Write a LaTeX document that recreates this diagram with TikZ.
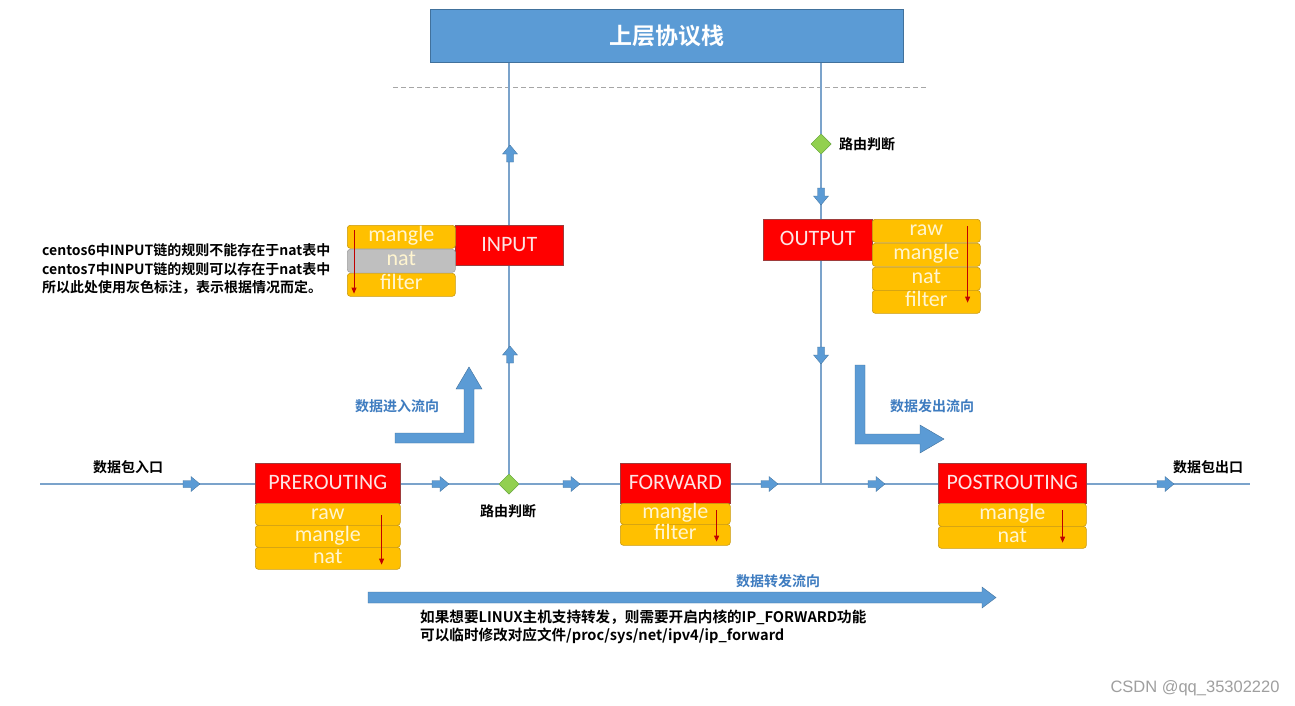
\documentclass[tikz,border=0pt]{standalone}
\usepackage{fontspec}
\usetikzlibrary{shapes.geometric,arrows.meta}
\newfontfamily\cjkb{Noto Sans CJK SC Bold}
\newfontfamily\carl{Carlito}
\newfontfamily\wmfont{Liberation Sans}
\definecolor{lineblue}{HTML}{7BA3CB}
\definecolor{boxblue}{HTML}{5B9BD5}
\definecolor{boxblueb}{HTML}{41719C}
\definecolor{arrblue}{HTML}{5B9BD5}
\definecolor{chainred}{HTML}{FF0000}
\definecolor{chainb}{HTML}{9E3B3B}
\definecolor{chaintxt}{HTML}{FCE4E4}
\definecolor{tabyel}{HTML}{FFC000}
\definecolor{tabyelb}{HTML}{C99A10}
\definecolor{tabtxt}{HTML}{FFF5D0}
\definecolor{tabgray}{HTML}{BFBFBF}
\definecolor{tabgrayb}{HTML}{A0A0A0}
\definecolor{dgreen}{HTML}{92D050}
\definecolor{dgreenb}{HTML}{70AD47}
\definecolor{lbl}{HTML}{3E7CC0}
\definecolor{redarr}{HTML}{C00000}
\tikzset{
  conn/.style={draw=lineblue, line width=1.1pt},
  chain/.style={anchor=north west, fill=chainred, draw=chainb, line width=0.5pt, inner sep=0pt,
    text=chaintxt, font=\carl\fontsize{22}{22}\selectfont, minimum height=40, text height=14, text depth=2},
  tbl/.style={anchor=north west, fill=tabyel, draw=tabyelb, line width=0.6pt, rounded corners=3pt, inner sep=0pt,
    text=tabtxt, font=\carl\fontsize{22}{22}\selectfont, minimum height=23, text height=14, text depth=4},
  tblgray/.style={tbl, fill=tabgray, draw=tabgrayb},
  route/.style={diamond, fill=dgreen, draw=dgreenb, line width=0.5pt, minimum width=20, minimum height=20, inner sep=0pt},
  txt/.style={font=\cjkb\fontsize{14}{18}\selectfont, text=black, inner sep=0pt},
  bluetxt/.style={font=\cjkb\fontsize{14}{18}\selectfont, text=lbl, inner sep=0pt},
  tabarrow/.style={draw=redarr, line width=0.8pt, -{Triangle[width=5pt,length=6pt]}},
  bigarr/.style={fill=arrblue, draw=boxblueb, line width=0.4pt},
  rarr/.pic={\fill[arrblue, draw=boxblueb, line width=0.3pt] (-8,-3.5) -- (0,-3.5) -- (0,-7.5) -- (9,0) -- (0,7.5) -- (0,3.5) -- (-8,3.5) -- cycle;},
  uarr/.pic={\fill[arrblue, draw=boxblueb, line width=0.3pt] (-3.5,8) -- (-3.5,0) -- (-7.5,0) -- (0,-9) -- (7.5,0) -- (3.5,0) -- (3.5,8) -- cycle;},
  darr/.pic={\fill[arrblue, draw=boxblueb, line width=0.3pt] (-3.5,-8) -- (-3.5,0) -- (-7.5,0) -- (0,9) -- (7.5,0) -- (3.5,0) -- (3.5,-8) -- cycle;},
}
\begin{document}
\begin{tikzpicture}[x=1pt,y=-1pt]
\useasboundingbox (0,0) rectangle (1295,705);
\fill[white] (0,0) rectangle (1295,705);

% upper stack
\node[anchor=north west, fill=boxblue, draw=boxblueb, line width=0.6pt, minimum width=473, minimum height=53, inner sep=0pt,
  text=white, font=\cjkb\fontsize{23}{23}\selectfont] (upper) at (430,9) {上层协议栈};

% dashed boundary
\coordinate (dl) at (393,87);
\coordinate (dr) at (928,87);
\draw[draw=gray!70, line width=0.8pt, dash pattern=on 5pt off 3pt] (dl) -- (dr);

% main line
\coordinate (pin) at (40,484);
\coordinate (pout) at (1250,484);
\coordinate (junc) at (821,484);
\node[route] (d1) at (509,484) {};
\node[route] (d2) at (821,144) {};

\draw[conn] (pin) -- (pout);
\draw[conn] (d1.center) -- (d1.center |- upper.south);
\draw[conn] (junc) -- (junc |- upper.south);

% redraw diamonds on top
\node[route] at (d1) {};
\node[route] at (d2) {};

% small arrows
\pic at (191,484) {rarr};
\pic at (440,484) {rarr};
\pic at (571,484) {rarr};
\pic at (769,484) {rarr};
\pic at (876,484) {rarr};
\pic at (1165,484) {rarr};
\pic at (510,154) {uarr};
\pic at (510,355) {uarr};
\pic at (821,196) {darr};
\pic at (821,355) {darr};

% INPUT
\node[chain, minimum width=108] (input) at (455,225) {INPUT};
\node[tbl, minimum width=108] (im) at (347,225) {mangle};
\node[tblgray, minimum width=108] (in) at (347,249) {nat};
\node[tbl, minimum width=108] (if) at (347,273) {filter};
\draw[tabarrow] ([xshift=7pt,yshift=-5pt]im.north west) -- ([xshift=7pt,yshift=3pt]if.south west);

% OUTPUT
\node[chain, minimum width=109, minimum height=41] (output) at (763,219) {OUTPUT};
\node[tbl, minimum width=108] (or) at (872,219) {raw};
\node[tbl, minimum width=108] (om) at (872,243) {mangle};
\node[tbl, minimum width=108] (on) at (872,267) {nat};
\node[tbl, minimum width=108] (of) at (872,290) {filter};
\draw[tabarrow] ([xshift=-13pt,yshift=-7pt]or.north east) -- ([xshift=-13pt,yshift=11pt]of.south east);

% PREROUTING
\node[chain, minimum width=145] (pre) at (255,463) {PREROUTING};
\node[tbl, minimum width=145, minimum height=22] (pr) at (255,503) {raw};
\node[tbl, minimum width=145, minimum height=22] (pm) at (255,525) {mangle};
\node[tbl, minimum width=145, minimum height=22] (pn) at (255,547) {nat};
\draw[tabarrow] ([xshift=-19pt,yshift=-12pt]pr.north east) -- ([xshift=-19pt,yshift=5pt]pn.south east);

% FORWARD
\node[chain, minimum width=110] (fwd) at (620,463) {FORWARD};
\node[tbl, minimum width=110, minimum height=21] (fm) at (620,503) {mangle};
\node[tbl, minimum width=110, minimum height=21] (ff) at (620,524) {filter};
\draw[tabarrow] ([xshift=-14pt,yshift=-7pt]fm.north east) -- ([xshift=-14pt,yshift=4pt]ff.south east);

% POSTROUTING
\node[chain, minimum width=148] (post) at (938,463) {POSTROUTING};
\node[tbl, minimum width=148] (qm) at (938,503) {mangle};
\node[tbl, minimum width=148, minimum height=22] (qn) at (938,526) {nat};
\draw[tabarrow] ([xshift=-24pt,yshift=-7pt]qm.north east) -- ([xshift=-24pt,yshift=6pt]qn.south east);

% labels
\node[txt] (lin) at (128,467) {数据包入口};
\node[txt] (lout) at (1208,467) {数据包出口};
\node[txt] (r1) at (508,511) {路由判断};
\node[txt, anchor=west] (r2) at (839,144) {路由判断};
\node[bluetxt] (bin) at (397,406) {数据进入流向};
\node[bluetxt] (bout) at (932,406) {数据发出流向};
\node[bluetxt] (bfwd) at (778,581) {数据转发流向};

% big arrows
\draw[bigarr] (395,433) -- (464,433) -- (464,389) -- (456,389) -- (469,367) -- (482,389) -- (474,389) -- (474,443) -- (395,443) -- cycle;
\draw[bigarr] (855,365) -- (865,365) -- (865,434) -- (920,434) -- (920,425) -- (944,439) -- (920,453) -- (920,444) -- (855,444) -- cycle;
\draw[bigarr] (368,592) -- (982,592) -- (982,587) -- (996,597.5) -- (982,608) -- (982,603) -- (368,603) -- cycle;

% notes
\node[txt, anchor=west, align=left, font=\cjkb\fontsize{14}{18.5}\selectfont] (note1) at (42,269)
  {centos6中INPUT链的规则不能存在于nat表中\\centos7中INPUT链的规则可以存在于nat表中\\所以此处使用灰色标注，表示根据情况而定。};
\node[txt, anchor=west, align=left, font=\cjkb\fontsize{14.6}{18}\selectfont] (note2) at (420,627)
  {如果想要LINUX主机支持转发，则需要开启内核的IP\_FORWARD功能\\可以临时修改对应文件/proc/sys/net/ipv4/ip\_forward};

% watermark
\node[font=\wmfont\fontsize{16.5}{16.5}\selectfont, text=gray!75, inner sep=0pt] (wm) at (1195,688) {CSDN @qq\_35302220};
\end{tikzpicture}
\end{document}
